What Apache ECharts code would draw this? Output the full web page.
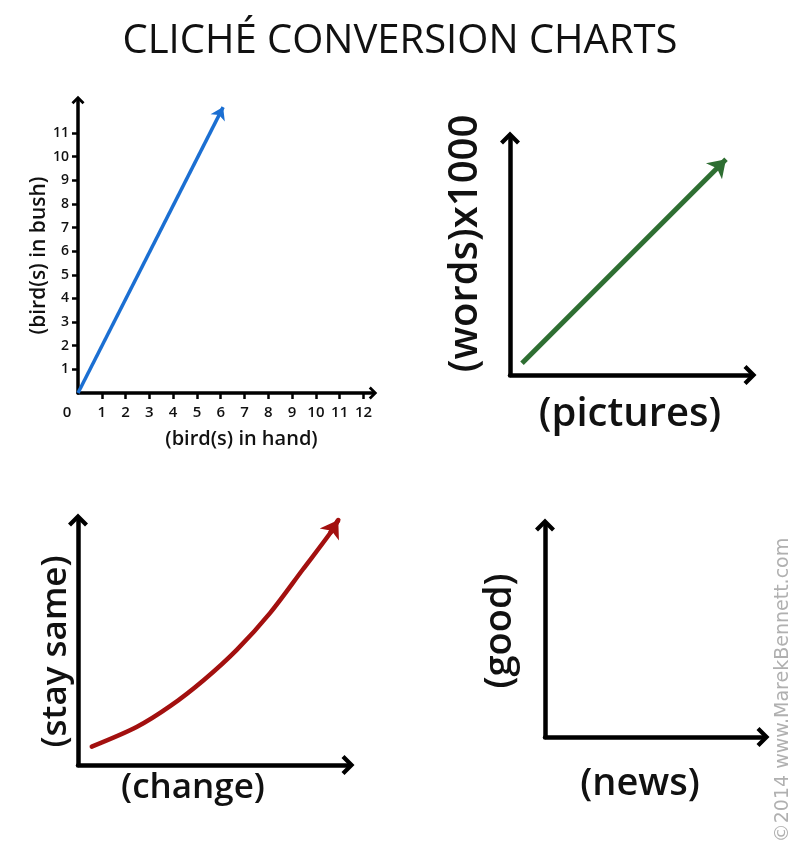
<!DOCTYPE html>
<html>
<head>
<meta charset="utf-8">
<script src="https://cdn.jsdelivr.net/npm/echarts@6/dist/echarts.min.js"></script>
<style>html,body{margin:0;padding:0;background:#fff;}#c{width:800px;height:846px;}</style>
</head>
<body>
<div id="c"></div>
<script>
// ---- data ----
const titleText = 'CLICHÉ CONVERSION CHARTS';
const handTickValues = [1, 2, 3, 4, 5, 6, 7, 8, 9, 10, 11, 12];
const handLabelValues = [0, 1, 2, 3, 4, 5, 6, 7, 8, 9, 10, 11, 12];
const bushTickValues = [1, 2, 3, 4, 5, 6, 7, 8, 9, 10, 11];
const bushLabelValues = [1, 2, 3, 4, 5, 6, 7, 8, 9, 10, 11];
const birdsLine = [[0, 0], [6.1, 12.1]];             // (hand, bush)
const wordsLine = [[0.5, 0.5], [9, 9.1]];            // (pictures, words x1000)
const changeCurve = [[0.51, 0.75], [2.17, 1.55], [3.41, 2.4], [4.64, 3.45], [5.88, 4.7], [7.11, 6.2], [8.34, 8.0], [9.33, 9.45], [9.64, 10.0]];
const axisNames = {
  hand: '(bird(s) in hand)', bush: '(bird(s) in bush)',
  pictures: '(pictures)', words: '(words)x1000',
  change: '(change)', same: '(stay same)',
  news: '(news)', good: '(good)'
};
const credit = '©2014 www.MarekBennett.com';

// ---- styles ----
const FONT = '"Open Sans", "DejaVu Sans", sans-serif';
const chevron = 'path://M0,10 L10,0 L20,10 L17,13 L10,6 L3,13 Z';

function nameStyle(size, padding) {
  const s = { fontFamily: FONT, fontSize: size, color: '#111', fontWeight: 600 };
  if (padding) s.padding = padding;
  return s;
}

function baseAxis(o) {
  return Object.assign({
    type: 'value', min: 0, max: 10,
    splitLine: { show: false },
    axisTick: { show: false },
    axisLabel: { show: false },
    nameLocation: 'middle',
    nameTextStyle: nameStyle(34),
    axisLine: { show: true, onZero: false, lineStyle: { color: '#000', width: 4.5, cap: 'round' },
      symbol: ['none', chevron], symbolSize: [20, 14] }
  }, o);
}

const chart = echarts.init(document.getElementById('c'));
chart.setOption({
  backgroundColor: '#fff',
  animation: false,
  title: {
    text: titleText, left: 'center', top: 17,
    textStyle: { fontFamily: FONT, fontSize: 40, fontWeight: 'normal', color: '#111' }
  },
  grid: [
    { left: 78, top: 100, width: 295, height: 293, outerBoundsMode: 'none' },
    { left: 510, top: 138, width: 240, height: 237, outerBoundsMode: 'none' },
    { left: 78, top: 520, width: 270, height: 245, outerBoundsMode: 'none' },
    { left: 545, top: 525, width: 218, height: 212, outerBoundsMode: 'none' }
  ],
  xAxis: [
    baseAxis({
      gridIndex: 0, max: 12.4,
      axisLine: { show: true, onZero: false, lineStyle: { color: '#000', width: 3.5 }, symbol: ['none', chevron], symbolSize: [13, 9] },
      axisTick: { show: true, customValues: handTickValues, length: 6, lineStyle: { color: '#000', width: 2.5 } },
      axisLabel: { show: true, customValues: handLabelValues, margin: 12, fontFamily: FONT, fontSize: 15, fontWeight: 600, color: '#111',
        formatter: v => v === 0 ? '{z|0}' : String(v),
        rich: { z: { padding: [0, 22, 0, 0], fontFamily: FONT, fontSize: 15, fontWeight: 600, color: '#111' } } },
      name: axisNames.hand, nameGap: 36,
      nameTextStyle: nameStyle(20, [0, 0, 0, 32])
    }),
    baseAxis({ gridIndex: 1, name: axisNames.pictures, nameGap: 20, nameTextStyle: nameStyle(40) }),
    baseAxis({ gridIndex: 2, name: axisNames.change, nameGap: 6, nameTextStyle: nameStyle(35, [0, 40, 0, 0]) }),
    baseAxis({ gridIndex: 3, name: axisNames.news, nameGap: 28, nameTextStyle: nameStyle(38, [0, 28, 0, 0]) })
  ],
  yAxis: [
    baseAxis({
      gridIndex: 0, max: 12.4,
      axisLine: { show: true, onZero: false, lineStyle: { color: '#000', width: 3.5 }, symbol: ['none', chevron], symbolSize: [13, 9] },
      axisTick: { show: true, customValues: bushTickValues, length: 6, lineStyle: { color: '#000', width: 2.5 } },
      axisLabel: { show: true, customValues: bushLabelValues, margin: 9, fontFamily: FONT, fontSize: 14, fontWeight: 600, color: '#111' },
      name: axisNames.bush, nameGap: 24,
      nameTextStyle: nameStyle(21, [0, 18, 0, 0])
    }),
    baseAxis({ gridIndex: 1, name: axisNames.words, nameGap: 24, nameTextStyle: nameStyle(40, [0, 0, 0, 26]) }),
    baseAxis({ gridIndex: 2, name: axisNames.same, nameGap: 4, nameTextStyle: nameStyle(35, [0, 18, 0, 0]) }),
    baseAxis({ gridIndex: 3, name: axisNames.good, nameGap: 26, nameTextStyle: nameStyle(38) })
  ],
  series: [
    { type: 'lines', coordinateSystem: 'cartesian2d', xAxisIndex: 0, yAxisIndex: 0,
      symbol: ['none', 'arrow'], symbolSize: 12, silent: true,
      lineStyle: { color: '#1b6fd2', width: 3.5, opacity: 1 },
      data: [{ coords: birdsLine }] },
    { type: 'lines', coordinateSystem: 'cartesian2d', xAxisIndex: 1, yAxisIndex: 1,
      symbol: ['none', 'arrow'], symbolSize: 17, silent: true,
      lineStyle: { color: '#2e6e32', width: 5, opacity: 1 },
      data: [{ coords: wordsLine }] },
    { type: 'line', xAxisIndex: 2, yAxisIndex: 2, smooth: 0.3, showSymbol: false, silent: true, clip: false,
      lineStyle: { color: '#a3100f', width: 4.5, cap: 'round' },
      data: changeCurve },
    { type: 'lines', coordinateSystem: 'cartesian2d', xAxisIndex: 2, yAxisIndex: 2,
      symbol: ['none', 'arrow'], symbolSize: 17, silent: true,
      lineStyle: { color: '#a3100f', width: 4.5, opacity: 1 },
      data: [{ coords: changeCurve.slice(-2) }] }
  ],
  graphic: [
    { type: 'text', x: 783, y: 690, rotation: Math.PI / 2,
      style: { text: credit, fill: '#b0b0b0', font: '19px "DejaVu Sans", sans-serif', align: 'center', verticalAlign: 'middle' } }
  ]
});
</script>
</body>
</html>
